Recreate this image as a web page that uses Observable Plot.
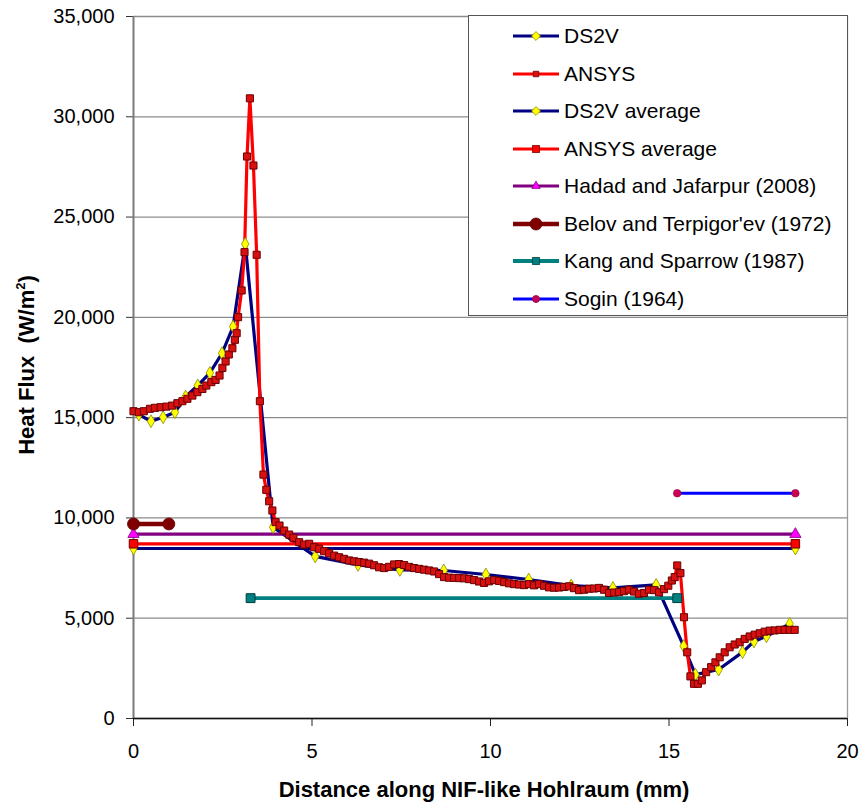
<!DOCTYPE html>
<html>
<head>
<meta charset="utf-8">
<script src="https://cdn.jsdelivr.net/npm/d3@7"></script>
<script src="https://cdn.jsdelivr.net/npm/@observablehq/plot@0.6"></script>
<style>
  html, body { margin: 0; padding: 0; background: #fff; }
  #wrap { position: relative; width: 863px; height: 805px; font-family: "Liberation Sans", Arial, sans-serif; }
  #legend { position: absolute; left: 468px; top: 15px; width: 380px; height: 301px; border: 1.5px solid #555; background: #fff; box-sizing: border-box; }
  .item { position: absolute; left: 44px; height: 30px; display: flex; align-items: center; font-size: 21px; color: #000; white-space: nowrap; }
  .item svg { margin-right: 5px; }
</style>
</head>
<body>
<div id="wrap"></div>
<script>
// ---------- data ----------
const xTicks = [0, 5, 10, 15, 20];
const yTicks = [0, 5000, 10000, 15000, 20000, 25000, 30000, 35000];

const ds2vX = [0.15, 0.49, 0.83, 1.16, 1.46, 1.80, 2.14, 2.48, 2.79, 3.13, 3.91, 5.09, 6.29, 7.46, 8.69, 9.87, 11.07, 12.26, 13.43, 14.64, 15.41, 15.74, 16.39, 17.06, 17.38, 17.73, 18.38];
const ds2vY = [15150, 14820, 15020, 15270, 16050, 16600, 17230, 18210, 19540, 23660, 9540, 8080, 7660, 7410, 7380, 7180, 6930, 6630, 6510, 6660, 3610, 2190, 2440, 3310, 3840, 4100, 4720];

const ansysX = [0.00, 0.15, 0.29, 0.46, 0.60, 0.76, 0.92, 1.08, 1.23, 1.37, 1.51, 1.65, 1.79, 1.93, 2.04, 2.18, 2.30, 2.41, 2.49, 2.58, 2.67, 2.77, 2.84, 2.89, 2.93, 3.03, 3.11, 3.18, 3.26, 3.36, 3.45, 3.54, 3.64, 3.72, 3.80, 3.89, 3.98, 4.09, 4.22, 4.36, 4.48, 4.64, 4.78, 4.92, 5.06, 5.20, 5.34, 5.48, 5.62, 5.76, 5.90, 6.04, 6.18, 6.32, 6.46, 6.60, 6.74, 6.88, 7.02, 7.16, 7.30, 7.44, 7.58, 7.72, 7.86, 8.00, 8.14, 8.28, 8.42, 8.56, 8.70, 8.84, 8.98, 9.12, 9.26, 9.40, 9.54, 9.68, 9.82, 9.96, 10.10, 10.24, 10.38, 10.52, 10.66, 10.80, 10.94, 11.08, 11.22, 11.36, 11.50, 11.64, 11.78, 11.92, 12.06, 12.20, 12.34, 12.48, 12.62, 12.76, 12.90, 13.04, 13.18, 13.32, 13.46, 13.60, 13.74, 13.88, 14.02, 14.16, 14.30, 14.44, 14.58, 14.72, 14.86, 14.98, 15.08, 15.16, 15.23, 15.32, 15.42, 15.51, 15.60, 15.70, 15.81, 15.92, 16.04, 16.18, 16.30, 16.42, 16.56, 16.70, 16.84, 16.98, 17.12, 17.26, 17.40, 17.54, 17.68, 17.82, 17.96, 18.10, 18.24, 18.38, 18.52];
const ansysY = [15320, 15270, 15320, 15440, 15490, 15520, 15550, 15600, 15720, 15820, 15940, 16100, 16270, 16430, 16600, 16770, 16880, 17100, 17480, 17800, 18150, 18460, 18880, 19210, 20010, 21340, 23250, 28020, 30920, 27570, 23120, 15820, 12160, 11400, 10830, 10370, 9790, 9620, 9370, 9170, 9010, 8790, 8670, 8710, 8540, 8460, 8340, 8240, 8120, 8040, 7960, 7880, 7840, 7800, 7770, 7720, 7640, 7540, 7500, 7560, 7680, 7700, 7650, 7560, 7500, 7460, 7420, 7380, 7330, 7200, 7050, 7020, 7010, 7000, 6990, 6950, 6900, 6830, 6760, 6840, 6900, 6860, 6800, 6740, 6700, 6680, 6650, 6700, 6640, 6700, 6620, 6540, 6520, 6530, 6560, 6590, 6500, 6400, 6420, 6470, 6480, 6510, 6420, 6260, 6280, 6300, 6350, 6420, 6330, 6220, 6260, 6420, 6400, 6290, 6450, 6620, 6880, 7050, 7630, 7250, 5050, 3300, 2100, 1730, 1730, 1900, 2310, 2560, 2800, 3050, 3300, 3550, 3690, 3800, 3970, 4090, 4180, 4250, 4330, 4380, 4390, 4420, 4420, 4420, 4420];

const ds2vAvgX = [0, 18.54],  ds2vAvgY = [8475, 8475];
const ansysAvgX = [0, 18.54], ansysAvgY = [8710, 8710];
const hadadX = [0, 18.54],    hadadY = [9190, 9190];
const belovX = [0, 0.99],     belovY = [9700, 9700];
const kangX = [3.28, 15.23],  kangY = [6000, 6000];
const soginX = [15.23, 18.54], soginY = [11230, 11230];

const zip = (xs, ys) => xs.map((x, i) => ({x, y: ys[i]}));
const ds2v = zip(ds2vX, ds2vY), ansys = zip(ansysX, ansysY);
const ds2vAvg = zip(ds2vAvgX, ds2vAvgY), ansysAvg = zip(ansysAvgX, ansysAvgY);
const hadad = zip(hadadX, hadadY), belov = zip(belovX, belovY);
const kang = zip(kangX, kangY), sogin = zip(soginX, soginY);

const lineOpts = (stroke, w) => ({x: "x", y: "y", stroke, strokeWidth: w, strokeLinejoin: "round", strokeLinecap: "butt"});

const chart = Plot.plot({
  width: 863, height: 805,
  marginLeft: 133, marginRight: 16, marginTop: 16, marginBottom: 87,
  style: {fontFamily: "'Liberation Sans', Arial, sans-serif", fontSize: "20px", color: "#000", background: "#fff"},
  x: {domain: [0, 20]},
  y: {domain: [0, 35000]},
  marks: [
    Plot.gridY(yTicks, {stroke: "#8c8c8c", strokeOpacity: 1, strokeWidth: 1.3}),
    Plot.ruleX([20], {stroke: "#9a9a9a", strokeWidth: 1.3}),
    Plot.axisY(yTicks, {tickFormat: d3.format(","), tickSize: 7, tickPadding: 12, stroke: "#333", fontSize: 20, label: null}),
    Plot.axisX(xTicks, {tickSize: 8, tickPadding: 17, stroke: "#222", fontSize: 20, label: null}),
    Plot.ruleX([0], {stroke: "#7a7a7a", strokeWidth: 2}),
    Plot.ruleY([0], {stroke: "#111", strokeWidth: 1.6}),
    // lines
    Plot.line(ds2v, lineOpts("#000080", 3.2)),
    Plot.line(ansys, lineOpts("#ff0000", 3.2)),
    Plot.line(ds2vAvg, lineOpts("#000080", 3.2)),
    Plot.line(ansysAvg, lineOpts("#ff0000", 3.2)),
    Plot.line(hadad, lineOpts("#800080", 3.2)),
    Plot.line(belov, lineOpts("#800000", 4.5)),
    Plot.line(kang, lineOpts("#008080", 3.8)),
    Plot.line(sogin, lineOpts("#0000ff", 3.2)),
    // markers
    Plot.dot(ds2v, {x: "x", y: "y", symbol: "diamond", r: 3.9, fill: "#ffff00", stroke: "#8a8a00", strokeWidth: 0.8}),
    Plot.dot(ansys, {x: "x", y: "y", symbol: "square", r: 4, fill: "#d81010", stroke: "#6a0000", strokeWidth: 1}),
    Plot.dot(ds2vAvg, {x: "x", y: "y", symbol: "diamond", r: 3.9, fill: "#ffff00", stroke: "#8a8a00", strokeWidth: 0.8}),
    Plot.dot(ansysAvg, {x: "x", y: "y", symbol: "square", r: 4.8, fill: "#ff0000", stroke: "#700000", strokeWidth: 1}),
    Plot.dot(hadad, {x: "x", y: "y", symbol: "triangle", r: 4.2, fill: "#ff00ff", stroke: "#800080", strokeWidth: 0.8}),
    Plot.dot(belov, {x: "x", y: "y", symbol: "circle", r: 6, fill: "#800000", stroke: "#5a0000", strokeWidth: 0.8}),
    Plot.dot(kang, {x: "x", y: "y", symbol: "square", r: 5, fill: "#008080", stroke: "#003c3c", strokeWidth: 1}),
    Plot.dot(sogin, {x: "x", y: "y", symbol: "circle", r: 3.8, fill: "#cc0055", stroke: "#8a0040", strokeWidth: 0.6})
  ]
});

const wrap = document.getElementById("wrap");
wrap.appendChild(chart);

// axis titles
const svg = d3.select(chart);
svg.append("text")
  .attr("x", 484).attr("y", 797)
  .attr("text-anchor", "middle")
  .attr("font-family", "'Liberation Sans', Arial, sans-serif")
  .attr("font-weight", "bold").attr("font-size", 22)
  .attr("fill", "#000")
  .text("Distance along NIF-like Hohlraum (mm)");
const yt = svg.append("text")
  .attr("transform", "translate(34,365) rotate(-90)")
  .attr("text-anchor", "middle")
  .attr("font-family", "'Liberation Sans', Arial, sans-serif")
  .attr("font-weight", "bold").attr("font-size", 22)
  .attr("fill", "#000");
yt.append("tspan").text("Heat Flux  (W/m");
yt.append("tspan").attr("font-size", 13).attr("dy", -9).text("2");
yt.append("tspan").attr("dy", 9).text(")");

// legend
const legendItems = [
  {label: "DS2V", stroke: "#000080", w: 3, sym: "diamond", fill: "#ffff00", mstroke: "#8a8a00", s: 4},
  {label: "ANSYS", stroke: "#ff0000", w: 3, sym: "square", fill: "#d81010", mstroke: "#6a0000", s: 3.5},
  {label: "DS2V average", stroke: "#000080", w: 3, sym: "diamond", fill: "#ffff00", mstroke: "#8a8a00", s: 4},
  {label: "ANSYS average", stroke: "#ff0000", w: 3, sym: "square", fill: "#ff0000", mstroke: "#700000", s: 4.5},
  {label: "Hadad and Jafarpur (2008)", stroke: "#800080", w: 3, sym: "triangle", fill: "#ff00ff", mstroke: "#800080", s: 4},
  {label: "Belov and Terpigor'ev (1972)", stroke: "#800000", w: 4.5, sym: "circle", fill: "#800000", mstroke: "#5a0000", s: 6},
  {label: "Kang and Sparrow (1987)", stroke: "#008080", w: 4, sym: "square", fill: "#008080", mstroke: "#003c3c", s: 4.5},
  {label: "Sogin (1964)", stroke: "#0000ff", w: 3, sym: "circle", fill: "#cc0055", mstroke: "#8a0040", s: 3.5}
];
const symMap = {diamond: d3.symbolDiamond2, square: d3.symbolSquare2, triangle: d3.symbolTriangle2, circle: d3.symbolCircle};
const legend = document.createElement("div");
legend.id = "legend";
legendItems.forEach((d, i) => {
  const item = document.createElement("div");
  item.className = "item";
  item.style.top = (5 + i * 37.5) + "px";
  const sw = d3.create("svg").attr("width", 46).attr("height", 20);
  sw.append("line").attr("x1", 0).attr("x2", 46).attr("y1", 10).attr("y2", 10)
    .attr("stroke", d.stroke).attr("stroke-width", d.w);
  sw.append("path").attr("transform", "translate(23,10)")
    .attr("d", d3.symbol(symMap[d.sym], Math.PI * d.s * d.s)())
    .attr("fill", d.fill).attr("stroke", d.mstroke).attr("stroke-width", 0.8);
  item.appendChild(sw.node());
  const span = document.createElement("span");
  span.textContent = d.label;
  item.appendChild(span);
  legend.appendChild(item);
});
wrap.appendChild(legend);
</script>
</body>
</html>
